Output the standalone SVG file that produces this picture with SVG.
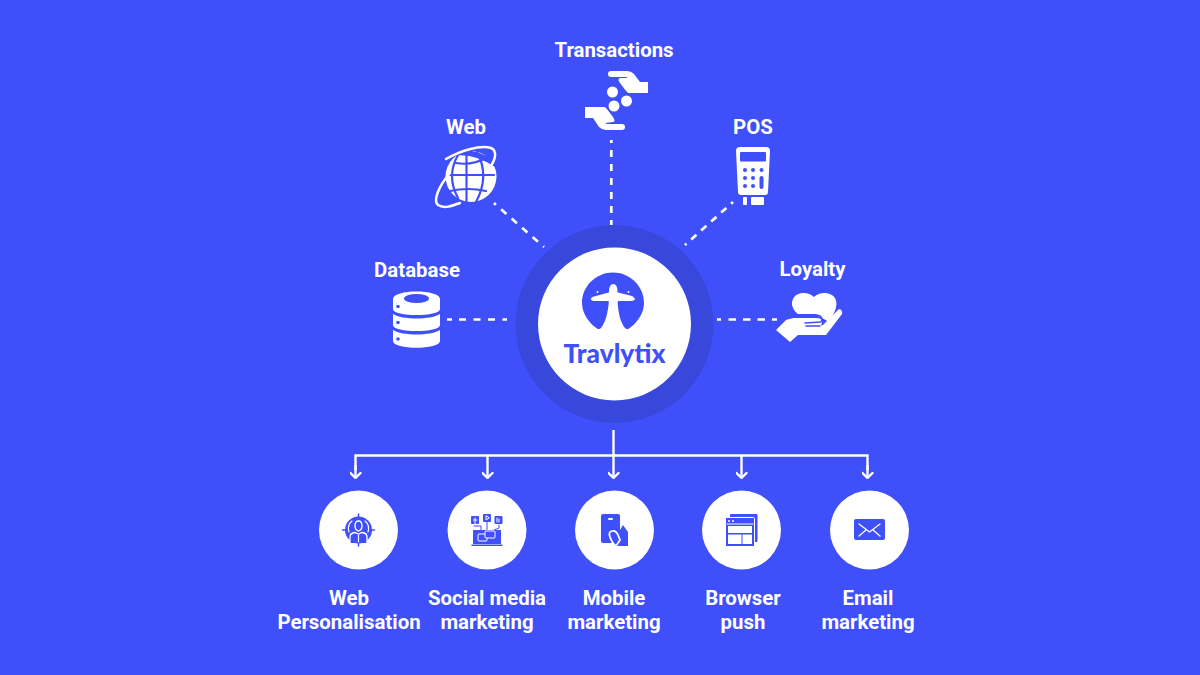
<svg xmlns="http://www.w3.org/2000/svg" width="1200" height="675" viewBox="0 0 1200 675">
<defs>
<style>
.lbl{font-family:Roboto,"Liberation Sans",sans-serif;font-weight:700;font-size:20.4px;fill:#fff;text-anchor:middle}
.w{fill:#fff}.b{fill:#3f4ffa}
.ws{fill:none;stroke:#fff;stroke-linecap:round;stroke-linejoin:round}
.bs{fill:none;stroke:#3f4ffa;stroke-linecap:round;stroke-linejoin:round}
.dash{fill:none;stroke:#fff;stroke-width:2.7}
.tree{fill:none;stroke:#fff;stroke-width:2.4}
</style>
<marker id="arr" viewBox="0 0 8 12" markerWidth="8" markerHeight="12" refX="7" refY="6" orient="auto" markerUnits="userSpaceOnUse"><path d="M2 1 L7 6 L2 11" fill="none" stroke="#fff" stroke-width="2.4" stroke-linecap="round" stroke-linejoin="round"/></marker>
</defs>
<rect width="1200" height="675" fill="#3f4ffa"/>
<g id="connectors">
<path class="dash" stroke-dasharray="5 7 7 7.500 7 7.500 7 7.500 4.500" d="M447 319.500H507"/>
<path class="dash" stroke-dasharray="4 7.500 7.500 7 7.500 7 7.500 7 5" d="M717 319.500H777"/>
<path class="dash" stroke-dasharray="3 7 7 7 7 7 7 7 7 7 7 7 5" d="M611.300 140V225"/>
<path class="dash" stroke-dasharray="2.500 7 7 7 7 7 7 7 7 7 2.500" d="M494 203L544 247"/>
<path class="dash" stroke-dasharray="2.500 6.400 7 6.400 7 6.400 7 6.400 7 6.400 2.500" d="M733 202L685 245"/>
<path class="tree" d="M613.500 430V478" marker-end="url(#arr)"/>
<path class="tree" d="M355.500 470V455.500H867.500V470" stroke-linejoin="miter"/>
<path class="tree" d="M355.500 465V478" marker-end="url(#arr)"/>
<path class="tree" d="M867.500 465V478" marker-end="url(#arr)"/>
<path class="tree" d="M487.500 455.500V478" marker-end="url(#arr)"/>
<path class="tree" d="M741.500 455.500V478" marker-end="url(#arr)"/>
</g>
<g id="hub">
<circle cx="614.500" cy="324" r="99" fill="#3848dc"/>
<circle cx="614.500" cy="324" r="76.500" fill="#fff"/>
<path class="b" d="M613 272.500C596 272.500 582 286 582 303C582 314 590 324 597 328.500Q599 330 601 328C605 323 608 314 609 300H617.500C618 314 621 323 625 328Q627 330 629 328.500C636 324 644 314 644 303C644 286 630 272.500 613 272.500Z"/>
<path class="w" d="M609 292Q609 284 613.300 284Q617.500 284 617.500 292L618 292.500L632 296Q636 298.500 634.500 300Q633 301 630 301L618 301L617.700 302.500H609L608.700 301L596 301Q592 301 591 299.500Q590.500 297.500 594 296.500L608.700 292.500Z"/>
<circle class="w" cx="597.500" cy="292" r="1"/><circle class="w" cx="628.500" cy="292" r="1"/>
<text x="614.500" y="363" font-family="Lato,'Liberation Sans',sans-serif" font-weight="900" font-size="27" fill="#3f4ffa" text-anchor="middle" textLength="102" lengthAdjust="spacingAndGlyphs">Travlytix</text>
</g>
<g id="transactions">
<text class="lbl" x="614" y="57">Transactions</text>
<path class="w" d="M611 71H627Q631 71 634 74L640 82H648V93H628Q625 90 623 87L620 83Q617 79 620 78L628 78L626 77H611Q608 77 608 74Q608 71 611 71Z"/>
<path class="w" d="M622 130H606Q602 130 599 127L593 118H585V107H605Q608 110 610 113L613 117Q616 122 613 122L605 123L607 124H622Q625 124 625 127Q625 130 622 130Z"/>
<circle class="w" cx="612.500" cy="92" r="5.500"/><circle class="w" cx="626.500" cy="101" r="5.500"/><circle class="w" cx="614" cy="106" r="5.500"/>
</g>
<g id="web">
<text class="lbl" x="466" y="134">Web</text>
<circle class="w" cx="471" cy="176.500" r="25.500"/>
<g class="bs" stroke-width="2.200">
<path d="M450 175H494"/>
<path d="M466.500 152V203"/>
<path d="M456 163Q472 166 488 157M450 191Q468 187 486 191"/>
<path d="M458 155Q446 176 458 198M477 152Q490 176 476 202"/>
</g>
<path class="bs" stroke-width="5.500" d="M444 156Q468 146 497 165M442 190Q444 214 472 205M480 205Q490 200 498 190"/>
<path class="ws" stroke-width="2.500" d="M446 159C462 150 480 145 491 148C498 151 495 161 490 167"/>
<path class="ws" stroke-width="2.500" d="M450 173C438 187 433 201 438 205C444 209 452 206 460 203"/>
</g>
<g id="pos">
<text class="lbl" x="753" y="134">POS</text>
<path class="w" d="M740 147H766Q770 147 770 151L768 192Q768 195 765 195H741Q738 195 738 192L736 151Q736 147 740 147Z"/>
<rect class="b" x="740" y="152" width="26" height="9.500" rx="1"/>
<g class="b"><circle cx="745" cy="170" r="2"/><circle cx="753" cy="170" r="2"/><circle cx="761.500" cy="170" r="2"/><circle cx="745" cy="178" r="2"/><circle cx="753" cy="178" r="2"/><circle cx="745" cy="186" r="2"/><circle cx="753" cy="186" r="2"/><rect x="759.500" y="176" width="4" height="13" rx="2"/></g>
<rect class="w" x="743" y="197" width="4" height="8" rx="1"/><rect class="w" x="751" y="197" width="13" height="8" rx="1"/>
</g>
<g id="loyalty">
<text class="lbl" x="812.500" y="276">Loyalty</text>
<path class="w" d="M814 297C808 291 797 292 793.500 298C790 304 793 310 798 314L815 314L829 322C834 314 839 305 835 298C831 292 820 291 814 297Z"/>
<path class="w" d="M776 330L788 318H816Q823 318 822 323L820 327L807 328L823 325L839 309Q843 310 842 314L826 335H798L790 342Z"/>
<path class="bs" stroke-width="1.500" d="M786 319L803 315H817Q824 316 821 322L805 323M806 326H820"/>
</g>
<g id="database">
<text class="lbl" x="417" y="277">Database</text>
<path class="w" d="M393 299C393 289 440 289 440 299V309C440 317 393 317 393 309Z"/>
<path class="w" d="M393 314C402 320 431 320 440 314V325C440 333 393 333 393 325Z"/>
<path class="w" d="M393 330C402 336 431 336 440 330V341C440 350 393 350 393 341Z"/>
<ellipse class="b" cx="416.500" cy="298.500" rx="12.500" ry="4.500"/>
<circle class="b" cx="398" cy="306.500" r="1.800"/><circle class="b" cx="398" cy="322.500" r="1.800"/><circle class="b" cx="398" cy="339" r="1.800"/>
</g>
<g id="web-personalisation">
<circle class="w" cx="358.500" cy="530" r="39.500"/>
<circle class="b" cx="358.500" cy="530" r="13.500"/>
<path class="bs" stroke-width="1.500" d="M358.500 514V546M342.500 530H374.500"/>
<path class="ws" stroke-width="1.200" d="M349 532Q347 525 352 521M368 532Q370 525 365 521"/>
<path class="b" stroke="#fff" stroke-width="1.300" d="M355 526Q355 521 358.500 521Q362 521 362 526Q362 530 358.500 531Q355 530 355 526Z"/>
<path class="b" stroke="#fff" stroke-width="1.300" d="M350 543V537Q350 533 355 532.500L358.500 534L362 532.500Q367 533 367 537V543"/>
<path class="ws" stroke-width="1.200" d="M358.500 535V542"/>
<text class="lbl" x="349" y="605">Web</text><text class="lbl" x="349" y="629">Personalisation</text>
</g>
<g id="social-media-marketing">
<circle class="w" cx="487" cy="530" r="39.500"/>
<rect class="b" x="471" y="516" width="8" height="8" rx="1"/><rect class="b" x="483" y="514" width="8" height="8" rx="1"/><rect class="b" x="494.500" y="516" width="8" height="8" rx="1"/>
<path class="ws" stroke-width="1" d="M475 518V524M473.500 520H477M486 516V520L489 518ZM497 518V522M499 519V522"/>
<path class="bs" stroke-width="1" d="M474 526H481V531M487 522V531M499 525V528L494 530"/>
<rect class="b" x="473" y="530" width="28" height="14"/>
<rect class="b" x="471.500" y="544.500" width="31" height="1.500"/>
<rect class="b" stroke="#fff" x="478" y="534" width="9" height="7" rx="1"/>
<rect class="b" stroke="#fff" x="485" y="531" width="10" height="7" rx="1"/>
<text class="lbl" x="487" y="605">Social media</text><text class="lbl" x="487" y="629">marketing</text>
</g>
<g id="mobile-marketing">
<circle class="w" cx="614.500" cy="530" r="39.500"/>
<rect class="b" x="601" y="514" width="19" height="29" rx="2"/>
<rect class="w" x="608" y="518" width="5" height="2" rx="1"/>
<path class="b" d="M620 530L623 525L628 532V546H616L620 540Z"/>
<path class="b" stroke="#fff" stroke-width="1.800" d="M610 537Q608 532 612 531Q616 530 618 535L620 540L616 546Q612 543 610 537Z"/>
<text class="lbl" x="614" y="605">Mobile</text><text class="lbl" x="614" y="629">marketing</text>
</g>
<g id="browser-push">
<circle class="w" cx="741.500" cy="530" r="39.500"/>
<rect class="b" x="730" y="514" width="27.500" height="28" rx="1"/>
<rect class="b" stroke="#fff" x="725.500" y="517.500" width="29" height="29" rx="1"/>
<rect class="w" x="728" y="526" width="24" height="7"/><rect class="w" x="728" y="534.500" width="13.500" height="9.500"/><rect class="w" x="742.500" y="534.500" width="9.500" height="9.500"/>
<circle class="w" cx="729" cy="521" r="1"/><circle class="w" cx="733" cy="521" r="1"/>
<path class="ws" stroke-width="1" d="M727 524H753"/>
<text class="lbl" x="743" y="605">Browser</text><text class="lbl" x="743" y="629">push</text>
</g>
<g id="email-marketing">
<circle class="w" cx="869.500" cy="530" r="39.500"/>
<rect class="b" x="854" y="519" width="31" height="21" rx="2"/>
<path class="ws" stroke-width="1.300" d="M859 524L869.500 532L880 524M859 536L866 530M880 536L873 530"/>
<text class="lbl" x="868" y="605">Email</text><text class="lbl" x="868" y="629">marketing</text>
</g>
</svg>
